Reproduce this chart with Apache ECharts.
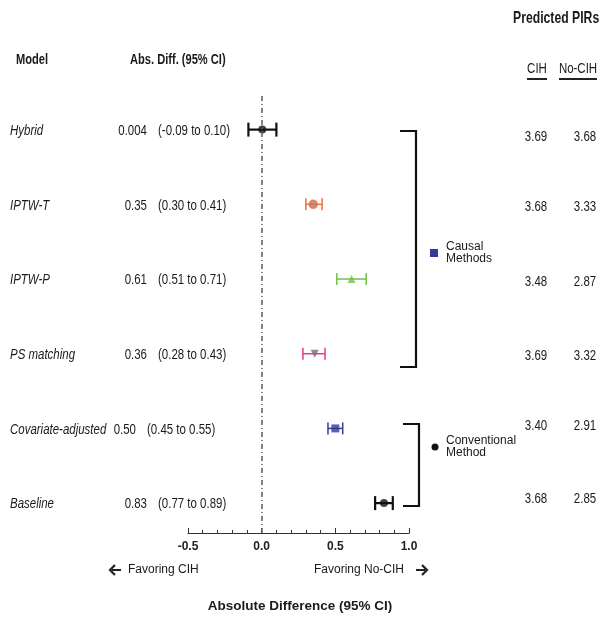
<!DOCTYPE html>
<html>
<head>
<meta charset="utf-8">
<script src="https://cdn.jsdelivr.net/npm/echarts@6/dist/echarts.min.js"></script>
<style>
  html, body { margin: 0; padding: 0; background: #fff; }
  #chart { width: 602px; height: 618px; }
</style>
</head>
<body>
<div id="chart"></div>
<script>
// forest plot data
const models = ["Hybrid", "IPTW-T", "IPTW-P", "PS matching", "Covariate-adjusted", "Baseline"];
const estimates = [0.004, 0.35, 0.61, 0.36, 0.50, 0.83];
const lower = [-0.09, 0.30, 0.51, 0.28, 0.45, 0.77];
const upper = [0.10, 0.41, 0.71, 0.43, 0.55, 0.89];
const estLabels = ["0.004", "0.35", "0.61", "0.36", "0.50", "0.83"];
const ciLabels = ["(-0.09 to 0.10)", "(0.30 to 0.41)", "(0.51 to 0.71)", "(0.28 to 0.43)", "(0.45 to 0.55)", "(0.77 to 0.89)"];
const pirCIH = ["3.69", "3.68", "3.48", "3.69", "3.40", "3.68"];
const pirNoCIH = ["3.68", "3.33", "2.87", "3.32", "2.91", "2.85"];

// marker look per row
const markerColors = ["#111", "#F26B3A", "#6DC24B", "#E8378F", "#2E3C97", "#111"];
const symbolFill = ["#111", "#b07a6a", "#6DC24B", "#6f6f77", "#2E3C97", "#111"];
const symbols = ["circle", "circle", "triangle", "triangle", "rect", "circle"];
const symbolRot = [0, 0, 0, 180, 0, 0];
const barWidth = [2.2, 1.5, 1.5, 1.5, 1.5, 2.2];

const sans = "'Liberation Sans', Arial, sans-serif";
const squeeze = 0.74; // fake a condensed face

const chart = echarts.init(document.getElementById("chart"));

const errData = models.map((m, i) => [lower[i], upper[i], i]);

const option = {
  animation: false,
  grid: { left: 188, right: 193, top: 96, bottom: 85 },
  xAxis: {
    type: "value",
    min: -0.5,
    max: 1.0,
    interval: 0.5,
    splitLine: { show: false },
    axisLine: { show: true, onZero: false, lineStyle: { color: "#333", width: 1.2 } },
    axisTick: { show: true, inside: true, length: 5, lineStyle: { color: "#333" } },
    minorTick: { show: true, splitNumber: 5, length: 3, lineStyle: { color: "#333" } },
    axisLabel: {
      color: "#222", fontFamily: sans, fontWeight: "bold", fontSize: 12, margin: 8,
      formatter: v => v.toFixed(1)
    }
  },
  yAxis: {
    type: "value",
    inverse: true,
    min: -0.45,
    max: 5.4,
    show: false
  },
  series: [
    {
      type: "custom",
      data: errData,
      renderItem: (params, api) => {
        const i = api.value(2);
        const a = api.coord([api.value(0), i]);
        const b = api.coord([api.value(1), i]);
        const h = (i === 0 || i === 5) ? 7 : 6;
        const st = { stroke: markerColors[i], lineWidth: barWidth[i] };
        return {
          type: "group",
          children: [
            { type: "line", shape: { x1: a[0], y1: a[1], x2: b[0], y2: b[1] }, style: st },
            { type: "line", shape: { x1: a[0], y1: a[1] - h, x2: a[0], y2: a[1] + h }, style: st },
            { type: "line", shape: { x1: b[0], y1: b[1] - h, x2: b[0], y2: b[1] + h }, style: st }
          ]
        };
      },
      markLine: {
        silent: true,
        symbol: "none",
        label: { show: false },
        lineStyle: { color: "#666", width: 1.6, type: [5, 3, 1, 3] },
        data: [{ xAxis: 0 }]
      },
      z: 2
    },
    {
      type: "scatter",
      z: 3,
      data: estimates.map((v, i) => ({
        value: [v, i],
        symbol: symbols[i],
        symbolRotate: symbolRot[i],
        symbolSize: 8,
        itemStyle: {
          color: symbolFill[i],
          borderColor: i === 1 ? markerColors[i] : symbolFill[i],
          borderWidth: i === 1 ? 1.5 : 0
        }
      }))
    }
  ]
};
chart.setOption(option);

const rowY = models.map((m, i) => chart.convertToPixel({ yAxisIndex: 0 }, i));
const pirOffset = [7, 2, 3, 2, -3, -4];
const g = [];
const txt = (text, x, y, style, sx) => g.push({
  type: "text", x, y, scaleX: sx === undefined ? squeeze : sx,
  style: Object.assign({ text, fill: "#1a1a1a", fontSize: 15.5, fontFamily: sans, verticalAlign: "middle" }, style)
});

// headers
txt("Model", 16, 60, { fontWeight: "bold", fontSize: 15 });
txt("Abs. Diff. (95% CI)", 130, 60, { fontWeight: "bold", fontSize: 15 });
txt("Predicted PIRs", 513, 18, { fontWeight: "bold", fontSize: 16.5 });
txt("CIH", 537, 69, { align: "center" });
txt("No-CIH", 578, 69, { align: "center" });
g.push({ type: "line", shape: { x1: 527, y1: 79, x2: 547, y2: 79 }, style: { stroke: "#222", lineWidth: 2 } });
g.push({ type: "line", shape: { x1: 559, y1: 79, x2: 597, y2: 79 }, style: { stroke: "#222", lineWidth: 2 } });

models.forEach((m, i) => {
  const y = rowY[i];
  const shift = i === 4 ? -11 : 0;
  txt(m, 10, y + 1, { fontStyle: "italic" });
  txt(estLabels[i], 147 + shift, y + 1, { align: "right" });
  txt(ciLabels[i], 158 + shift, y + 1, {});
  txt(pirCIH[i], 536, y + pirOffset[i], { align: "center" });
  txt(pirNoCIH[i], 585, y + pirOffset[i], { align: "center" });
});

// group brackets
const bracket = (x0, x1, y0, y1) => g.push({
  type: "polyline",
  shape: { points: [[x0, y0], [x1, y0], [x1, y1], [x0, y1]] },
  style: { stroke: "#111", lineWidth: 2.2, fill: null }
});
bracket(400, 416, 131, 367);
bracket(403, 419, 424, 506);

g.push({ type: "rect", shape: { x: 430, y: 249, width: 8, height: 8 }, style: { fill: "#2E3C97" } });
txt("Causal", 446, 247, { fontSize: 12 }, 1);
txt("Methods", 446, 259, { fontSize: 12 }, 1);
g.push({ type: "circle", shape: { cx: 435, cy: 447, r: 3.5 }, style: { fill: "#111" } });
txt("Conventional", 446, 441, { fontSize: 12 }, 1);
txt("Method", 446, 453, { fontSize: 12 }, 1);

// bottom annotations
const arrow = (xTail, xHead, y) => {
  const d = xHead > xTail ? -1 : 1;
  g.push({ type: "line", shape: { x1: xTail, y1: y, x2: xHead + d * 2, y2: y }, style: { stroke: "#222", lineWidth: 2 } });
  g.push({ type: "polyline", shape: { points: [[xHead + d * 5, y - 5], [xHead, y], [xHead + d * 5, y + 5]] }, style: { stroke: "#222", lineWidth: 2.2, fill: null } });
};
arrow(121, 110, 570);
txt("Favoring CIH", 128, 570, { fontSize: 12 }, 1);
txt("Favoring No-CIH", 314, 570, { fontSize: 12 }, 1);
arrow(416, 427, 570);
txt("Absolute Difference (95% CI)", 300, 606, { fontSize: 13.5, fontWeight: "bold", align: "center" }, 1);

chart.setOption({ graphic: g });
</script>
</body>
</html>
